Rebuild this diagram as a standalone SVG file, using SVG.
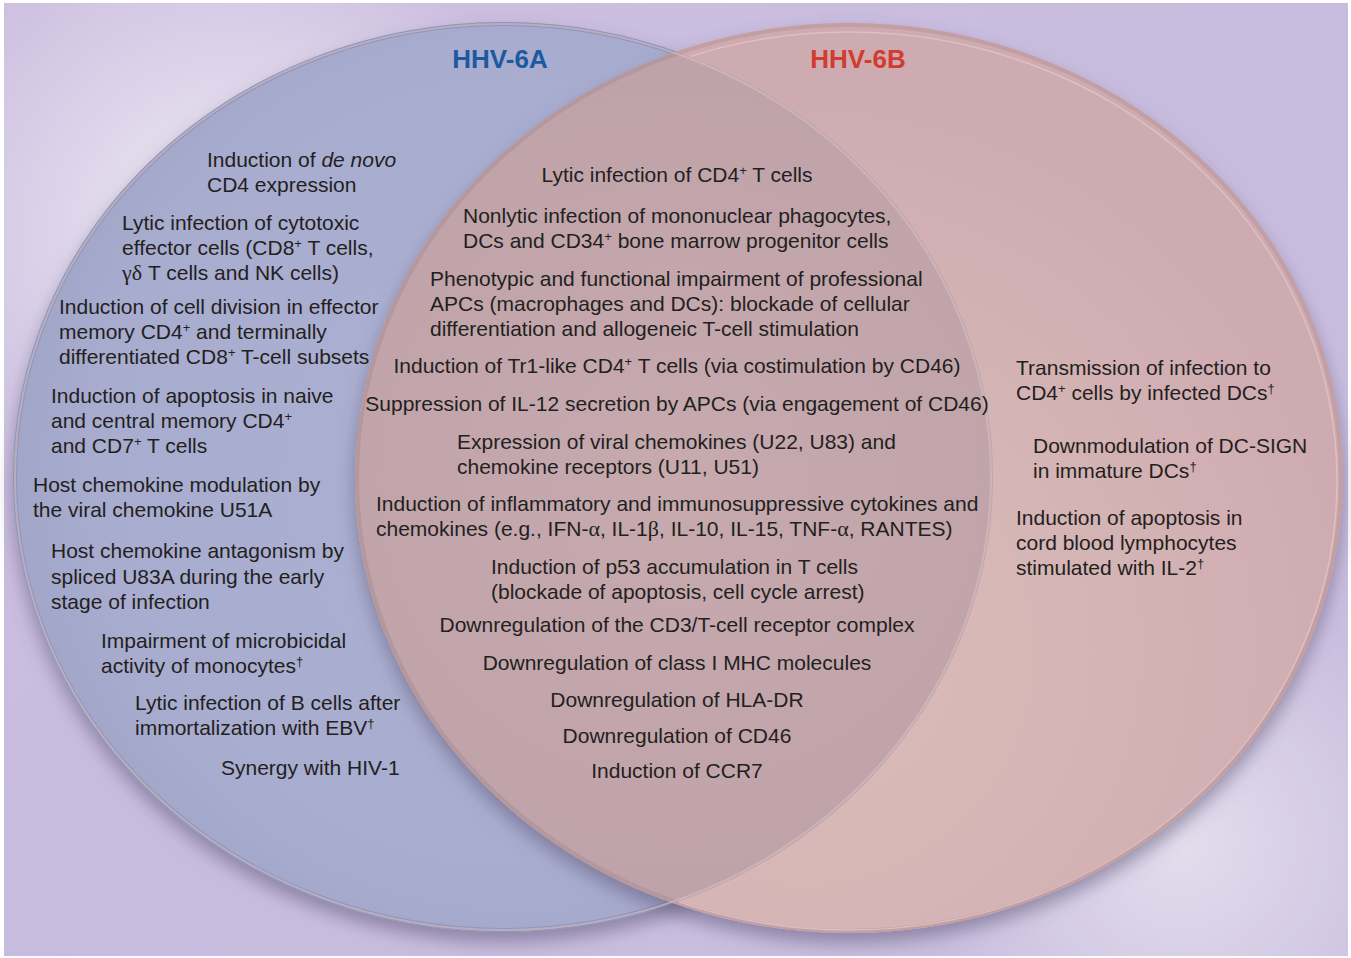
<svg xmlns="http://www.w3.org/2000/svg" width="1351" height="958" viewBox="0 0 1351 958">
<style>
.t{font-family:"Liberation Sans",Arial,sans-serif;font-size:21px;fill:#231f20}
.m{text-anchor:middle}
.sup{font-size:13px;baseline-shift:7px}
.gk{font-family:"Liberation Serif","Times New Roman",serif;font-size:22px}
.ttl{font-family:"Liberation Sans",Arial,sans-serif;font-size:26px;font-weight:bold;text-anchor:middle}
</style>
<defs>
<linearGradient id="bg" x1="0" y1="0" x2="1" y2="1">
<stop offset="0" stop-color="#cdbfe0"/>
<stop offset="0.5" stop-color="#c8bcde"/>
<stop offset="1" stop-color="#cbbfdf"/>
</linearGradient>
<radialGradient id="hl1" cx="230" cy="240" r="330" gradientUnits="userSpaceOnUse">
<stop offset="0" stop-color="#f2eef6" stop-opacity="0.95"/>
<stop offset="1" stop-color="#f2eef6" stop-opacity="0"/>
</radialGradient>
<radialGradient id="hl2" cx="1180" cy="840" r="260" gradientUnits="userSpaceOnUse">
<stop offset="0" stop-color="#e6e1ef" stop-opacity="0.9"/>
<stop offset="1" stop-color="#e6e1ef" stop-opacity="0"/>
</radialGradient>
<radialGradient id="gBlue" cx="520" cy="470" r="500" gradientUnits="userSpaceOnUse">
<stop offset="0" stop-color="#acb0d1"/>
<stop offset="0.85" stop-color="#a8accf"/>
<stop offset="1" stop-color="#a2a6c9"/>
</radialGradient>
<radialGradient id="gPink" cx="800" cy="650" r="560" gradientUnits="userSpaceOnUse">
<stop offset="0" stop-color="#dcbdba"/>
<stop offset="0.6" stop-color="#d4b3b4"/>
<stop offset="1" stop-color="#ceabb1"/>
</radialGradient>
<radialGradient id="gLens" cx="680" cy="480" r="460" gradientUnits="userSpaceOnUse">
<stop offset="0" stop-color="#c6aaae"/>
<stop offset="1" stop-color="#bea2a9"/>
</radialGradient>
<filter id="sh" x="-10%" y="-10%" width="120%" height="125%">
<feDropShadow dx="0" dy="10" stdDeviation="9" flood-color="#5c5478" flood-opacity="0.55"/>
</filter>
<clipPath id="clipBlue"><ellipse cx="503" cy="477" rx="490" ry="455"/></clipPath>
</defs>

<g id="background">
<rect width="1351" height="958" fill="#ffffff"/>
<rect x="4" y="3" width="1344" height="953" fill="url(#bg)"/>
<rect x="4" y="3" width="1344" height="953" fill="url(#hl1)"/>
<rect x="4" y="3" width="1344" height="953" fill="url(#hl2)"/>
</g>

<g id="circle-HHV-6A">
<ellipse cx="503" cy="477" rx="490" ry="455" fill="url(#gBlue)" filter="url(#sh)"/>
<ellipse cx="503" cy="477" rx="488" ry="453" fill="none" stroke="#9095bb" stroke-width="4"/>
</g>

<g id="circle-HHV-6B">
<ellipse cx="849" cy="478" rx="494" ry="455" fill="url(#gPink)" filter="url(#sh)"/>
<ellipse cx="849" cy="478" rx="492" ry="453" fill="none" stroke="#c39ea3" stroke-width="4"/>
<ellipse cx="849" cy="481" rx="488" ry="449" fill="none" stroke="#e3c9c9" stroke-width="1.5" opacity="0.7"/>
</g>

<g id="overlap">
<ellipse cx="849" cy="478" rx="494" ry="455" fill="url(#gLens)" clip-path="url(#clipBlue)"/>
<ellipse cx="849" cy="478" rx="492" ry="453" fill="none" stroke="#b5979e" stroke-width="4" clip-path="url(#clipBlue)"/>
<ellipse cx="503" cy="477" rx="488" ry="453" fill="none" stroke="#d6bfc2" stroke-width="2" opacity="0.6"/>
</g>

<g id="connectors"/>

<g id="title-6A"><text class="ttl" x="500" y="68" fill="#1c5aa0">HHV-6A</text></g>
<g id="title-6B"><text class="ttl" x="858" y="68" fill="#d13b30">HHV-6B</text></g>

<g id="a1"><text class="t" x="207" y="167">Induction of <tspan font-style="italic">de novo</tspan></text><text class="t" x="207" y="192">CD4 expression</text></g>
<g id="a2"><text class="t" x="122" y="230">Lytic infection of cytotoxic</text><text class="t" x="122" y="255">effector cells (CD8<tspan class="sup">+</tspan> T cells,</text><text class="t" x="122" y="280"><tspan class="gk">γδ</tspan> T cells and NK cells)</text></g>
<g id="a3"><text class="t" x="59" y="314">Induction of cell division in effector</text><text class="t" x="59" y="339">memory CD4<tspan class="sup">+</tspan> and terminally</text><text class="t" x="59" y="364">differentiated CD8<tspan class="sup">+</tspan> T-cell subsets</text></g>
<g id="a4"><text class="t" x="51" y="403">Induction of apoptosis in naive</text><text class="t" x="51" y="428">and central memory CD4<tspan class="sup">+</tspan></text><text class="t" x="51" y="453">and CD7<tspan class="sup">+</tspan> T cells</text></g>
<g id="a5"><text class="t" x="33" y="492">Host chemokine modulation by</text><text class="t" x="33" y="517">the viral chemokine U51A</text></g>
<g id="a6"><text class="t" x="51" y="558">Host chemokine antagonism by</text><text class="t" x="51" y="584">spliced U83A during the early</text><text class="t" x="51" y="609">stage of infection</text></g>
<g id="a7"><text class="t" x="101" y="648">Impairment of microbicidal</text><text class="t" x="101" y="673">activity of monocytes<tspan class="sup">†</tspan></text></g>
<g id="a8"><text class="t" x="135" y="710">Lytic infection of B cells after</text><text class="t" x="135" y="735">immortalization with EBV<tspan class="sup">†</tspan></text></g>
<g id="a9"><text class="t" x="221" y="775">Synergy with HIV-1</text></g>

<g id="c1"><text class="t m" x="677" y="182">Lytic infection of CD4<tspan class="sup">+</tspan> T cells</text></g>
<g id="c2"><text class="t" x="463" y="223">Nonlytic infection of mononuclear phagocytes,</text><text class="t" x="463" y="248">DCs and CD34<tspan class="sup">+</tspan> bone marrow progenitor cells</text></g>
<g id="c3"><text class="t" x="430" y="286">Phenotypic and functional impairment of professional</text><text class="t" x="430" y="311">APCs (macrophages and DCs): blockade of cellular</text><text class="t" x="430" y="336">differentiation and allogeneic T-cell stimulation</text></g>
<g id="c4"><text class="t m" x="677" y="373">Induction of Tr1-like CD4<tspan class="sup">+</tspan> T cells (via costimulation by CD46)</text></g>
<g id="c5"><text class="t m" x="677" y="411">Suppression of IL-12 secretion by APCs (via engagement of CD46)</text></g>
<g id="c6"><text class="t" x="457" y="449">Expression of viral chemokines (U22, U83) and</text><text class="t" x="457" y="474">chemokine receptors (U11, U51)</text></g>
<g id="c7"><text class="t" x="376" y="511">Induction of inflammatory and immunosuppressive cytokines and</text><text class="t" x="376" y="536">chemokines (e.g., IFN-<tspan class="gk">α</tspan>, IL-1<tspan class="gk">β</tspan>, IL-10, IL-15, TNF-<tspan class="gk">α</tspan>, RANTES)</text></g>
<g id="c8"><text class="t" x="491" y="574">Induction of p53 accumulation in T cells</text><text class="t" x="491" y="599">(blockade of apoptosis, cell cycle arrest)</text></g>
<g id="c9"><text class="t m" x="677" y="632">Downregulation of the CD3/T-cell receptor complex</text></g>
<g id="c10"><text class="t m" x="677" y="670">Downregulation of class I MHC molecules</text></g>
<g id="c11"><text class="t m" x="677" y="707">Downregulation of HLA-DR</text></g>
<g id="c12"><text class="t m" x="677" y="743">Downregulation of CD46</text></g>
<g id="c13"><text class="t m" x="677" y="778">Induction of CCR7</text></g>

<g id="b1"><text class="t" x="1016" y="375">Transmission of infection to</text><text class="t" x="1016" y="400">CD4<tspan class="sup">+</tspan> cells by infected DCs<tspan class="sup">†</tspan></text></g>
<g id="b2"><text class="t" x="1033" y="453">Downmodulation of DC-SIGN</text><text class="t" x="1033" y="478">in immature DCs<tspan class="sup">†</tspan></text></g>
<g id="b3"><text class="t" x="1016" y="525">Induction of apoptosis in</text><text class="t" x="1016" y="550">cord blood lymphocytes</text><text class="t" x="1016" y="575">stimulated with IL-2<tspan class="sup">†</tspan></text></g>
</svg>
